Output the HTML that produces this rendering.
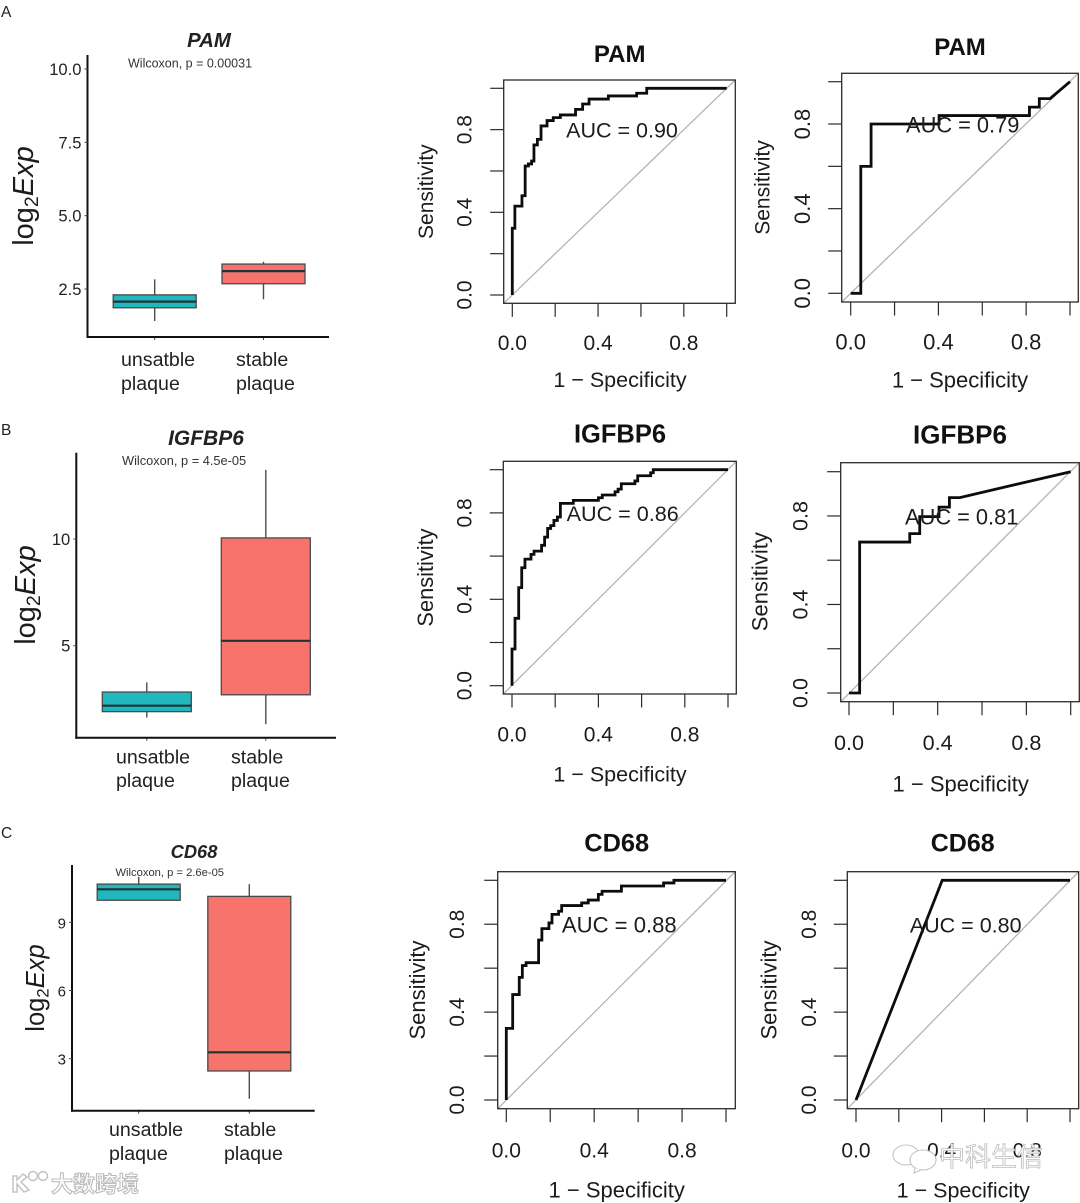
<!DOCTYPE html>
<html lang="en">
<head>
<meta charset="utf-8">
<title>PAM, IGFBP6 and CD68 expression boxplots and ROC curves</title>
<style>
html,body{margin:0;padding:0;background:#fff;}
svg{display:block;font-family:"Liberation Sans","Noto Sans CJK SC",sans-serif;fill:#1c1c1c;}
.bold{font-weight:bold;fill:#111;}
.bi{font-weight:bold;font-style:italic;fill:#222;}
.pv{font-size:12.5px;fill:#333;}
.cat{font-size:19.6px;fill:#222;}
.mid{text-anchor:middle;}
.letter{font-size:15.5px;fill:#222;}
</style>
</head>
<body>
<svg id="figure" xmlns="http://www.w3.org/2000/svg" width="1080" height="1203" viewBox="0 0 1080 1203">
  <text class="letter" x="1" y="17">A</text>
  <text class="letter" x="1" y="435">B</text>
  <text class="letter" x="1" y="838">C</text>

  <!-- Boxplot A -->
  <g id="box-a"></g>
  <text class="bi mid" x="209" y="47" font-size="20.4">PAM</text>
  <text class="pv" x="128" y="67.5">Wilcoxon, p = 0.00031</text>
  <text class="mid" transform="translate(33,196) rotate(-90)" font-size="29">log<tspan dy="5" font-size="19.5">2</tspan><tspan dy="-5" font-style="italic">Exp</tspan></text>
  <text class="cat" x="121" y="366">unsatble<tspan x="121" y="390">plaque</tspan></text>
  <text class="cat" x="236" y="366">stable<tspan x="236" y="390">plaque</tspan></text>

  <!-- Boxplot B -->
  <g id="box-b"></g>
  <text class="bi mid" x="206" y="445" font-size="21">IGFBP6</text>
  <text class="pv" x="122" y="465" style="font-size:12.8px">Wilcoxon, p = 4.5e-05</text>
  <text class="mid" transform="translate(35,595) rotate(-90)" font-size="29">log<tspan dy="5" font-size="19.5">2</tspan><tspan dy="-5" font-style="italic">Exp</tspan></text>
  <text class="cat" x="116" y="763.5">unsatble<tspan x="116" y="787">plaque</tspan></text>
  <text class="cat" x="231" y="763.5">stable<tspan x="231" y="787">plaque</tspan></text>

  <!-- Boxplot C -->
  <g id="box-c"></g>
  <text class="bi mid" x="194" y="858" font-size="18.3">CD68</text>
  <text class="pv" x="115.500" y="876" style="font-size:11.2px">Wilcoxon, p = 2.6e-05</text>
  <text class="mid" transform="translate(44,988) rotate(-90)" font-size="25.5">log<tspan dy="4.500" font-size="17">2</tspan><tspan dy="-4.500" font-style="italic">Exp</tspan></text>
  <text class="cat" x="109" y="1136">unsatble<tspan x="109" y="1160">plaque</tspan></text>
  <text class="cat" x="224" y="1136">stable<tspan x="224" y="1160">plaque</tspan></text>

  <!-- ROC panels -->
  <g id="roc-a1"></g>
  <text class="bold mid" x="619.700" y="62" font-size="24">PAM</text>
  <text class="mid" x="622" y="137.500" font-size="21.5">AUC = 0.90</text>
  <text class="mid" transform="translate(433,191.700) rotate(-90)" font-size="21">Sensitivity</text>
  <text class="mid" x="620" y="387" font-size="21.5">1 − Specificity</text>

  <g id="roc-a2"></g>
  <text class="bold mid" x="960" y="55" font-size="24">PAM</text>
  <text class="mid" x="962.700" y="132.300" font-size="21.8">AUC = 0.79</text>
  <text class="mid" transform="translate(769.300,187.500) rotate(-90)" font-size="21">Sensitivity</text>
  <text class="mid" x="960" y="387.300" font-size="22">1 − Specificity</text>

  <g id="roc-b1"></g>
  <text class="bold mid" x="620" y="442.700" font-size="25.5">IGFBP6</text>
  <text class="mid" x="622.700" y="521" font-size="21.6">AUC = 0.86</text>
  <text class="mid" transform="translate(433,577.500) rotate(-90)" font-size="21.8">Sensitivity</text>
  <text class="mid" x="620" y="781.700" font-size="21.5">1 − Specificity</text>

  <g id="roc-b2"></g>
  <text class="bold mid" x="960" y="443.300" font-size="26">IGFBP6</text>
  <text class="mid" x="961.700" y="524.300" font-size="21.8">AUC = 0.81</text>
  <text class="mid" transform="translate(767.300,581.700) rotate(-90)" font-size="22">Sensitivity</text>
  <text class="mid" x="960.700" y="791.700" font-size="22">1 − Specificity</text>

  <g id="roc-c1"></g>
  <text class="bold mid" x="616.700" y="851.700" font-size="25.4">CD68</text>
  <text class="mid" x="619.300" y="932.300" font-size="22.1">AUC = 0.88</text>
  <text class="mid" transform="translate(425,990) rotate(-90)" font-size="22">Sensitivity</text>
  <text class="mid" x="616.700" y="1197.700" font-size="22">1 − Specificity</text>

  <g id="roc-c2"></g>
  <text class="bold mid" x="962.700" y="851.700" font-size="25">CD68</text>
  <text class="mid" x="965.700" y="932.300" font-size="21.5">AUC = 0.80</text>
  <text class="mid" transform="translate(776.700,990) rotate(-90)" font-size="22">Sensitivity</text>
  <text class="mid" x="963.300" y="1197.700" font-size="21.5">1 − Specificity</text>

  <!-- Watermarks -->
  <g>
    <g fill="#fff" stroke="#c4c4c4" stroke-width="1.500">
      <path d="M13 1176 L13 1192 L17 1192 L17 1184 L24 1192 L29 1190 L21 1182 L27 1177 L23 1174 L17 1180 L17 1176 Z"/>
      <circle cx="33" cy="1176" r="4.500"/>
      <circle cx="43" cy="1176" r="4.500"/>
    </g>
    <text x="51" y="1192" font-size="22" font-weight="bold" style="fill:#fff;stroke:#bdbdbd;stroke-width:1.100px">大数跨境</text>
  </g>
  <g>
    <g fill="#fff" stroke="#c4c4c4" stroke-width="1.100">
      <ellipse cx="906" cy="1155" rx="13" ry="10"/>
      <ellipse cx="923" cy="1160" rx="13" ry="10"/>
      <path d="M915 1168 L914 1173 L921 1170" />
    </g>
    <text x="939" y="1166" font-size="26" style="fill:#fff;stroke:#bcbcbc;stroke-width:0.800px">中科生信</text>
  </g>
</svg>

<script>
// ---- Boxplot data: [whisker low, Q1, median, Q3, whisker high] ----
const boxCategories = ['unstable', 'stable'];
const pamUnstable = [1.41, 1.86, 2.07, 2.30, 2.83];
const pamStable = [2.15, 2.68, 3.11, 3.35, 3.43];
const igfbp6Unstable = [1.64, 1.91, 2.19, 2.83, 3.28];
const igfbp6Stable = [1.32, 2.70, 5.23, 10.05, 13.24];
const cd68Unstable = [9.97, 9.97, 10.45, 10.68, 11.0];
const cd68Stable = [1.24, 2.46, 3.28, 10.14, 10.68];
const pamTicks = [2.5, 5.0, 7.5, 10.0];
const pamTickLabels = ['2.5', '5.0', '7.5', '10.0'];
const igfbp6Ticks = [5, 10];
const igfbp6TickLabels = ['5', '10'];
const cd68Ticks = [3, 6, 9];
const cd68TickLabels = ['3', '6', '9'];

// ---- ROC tick values ----
const rocTicks = [0, 0.2, 0.4, 0.6, 0.8, 1.0];
const rocLabelTicks = [0, 0.4, 0.8];
const rocTickLabels = ['0.0', '0.4', '0.8'];

// ---- ROC curve vertices ----
const pamLeftFpr = [0,0,.012,.012,.045,.045,.06,.06,.075,.075,.09,.09,.101,.101,.117,.117,.134,.134,.162,.162,.191,.191,.224,.224,.295,.295,.328,.328,.358,.358,.448,.448,.58,.58,.627,.627,1];
const pamLeftTpr = [0,.323,.323,.43,.43,.48,.48,.624,.624,.634,.634,.648,.648,.726,.726,.753,.753,.818,.818,.844,.844,.858,.858,.871,.871,.898,.898,.924,.924,.948,.948,.963,.963,.976,.976,1,1];
const pamRightFpr = [0,.046,.046,.093,.093,.403,.403,.815,.815,.86,.86,.909,1];
const pamRightTpr = [0,0,.6,.6,.8,.8,.84,.84,.88,.88,.92,.92,1];
const igfbp6LeftFpr = [0,0,.014,.014,.031,.031,.045,.045,.06,.06,.088,.088,.102,.102,.137,.137,.151,.151,.165,.165,.179,.179,.194,.194,.21,.21,.224,.224,.284,.284,.4,.4,.418,.418,.477,.477,.491,.491,.506,.506,.569,.569,.582,.582,.642,.642,.654,.654,1];
const igfbp6LeftTpr = [0,.17,.17,.312,.312,.454,.454,.546,.546,.586,.586,.608,.608,.623,.623,.65,.65,.688,.688,.728,.728,.741,.741,.765,.765,.781,.781,.844,.844,.858,.858,.87,.87,.883,.883,.898,.898,.91,.91,.935,.935,.948,.948,.972,.972,.986,.986,1,1];
const igfbp6RightFpr = [0,.048,.048,.274,.274,.319,.319,.406,.406,.453,.453,.5,1];
const igfbp6RightTpr = [0,0,.682,.682,.72,.72,.797,.797,.84,.84,.883,.883,1];
const cd68LeftFpr = [0,0,.029,.029,.059,.059,.073,.073,.09,.09,.147,.147,.162,.162,.194,.194,.208,.208,.238,.238,.252,.252,.343,.343,.373,.373,.419,.419,.436,.436,.524,.524,.716,.716,.763,.763,1];
const cd68LeftTpr = [0,.326,.326,.48,.48,.558,.558,.612,.612,.625,.625,.728,.728,.78,.78,.806,.806,.845,.845,.859,.859,.885,.885,.897,.897,.91,.91,.936,.936,.95,.95,.974,.974,.988,.988,1,1];
const cd68RightFpr = [0,.403,1];
const cd68RightTpr = [0,1,1];

// ---- Drawing ----
const NS = 'http://www.w3.org/2000/svg';
function mk(parent, tag, attrs, text) {
  const el = document.createElementNS(NS, tag);
  for (const k in attrs) el.setAttribute(k, attrs[k]);
  if (text !== undefined) el.textContent = text;
  parent.appendChild(el);
  return el;
}

function linearScale(d0, r0, d1, r1) {
  return function (v) { return r0 + (v - d0) * (r1 - r0) / (d1 - d0); };
}

function drawBoxplot(id, key, layout, series, ticks, tickLabels) {
  const g = document.getElementById(id);
  const y = linearScale(layout.d0, layout.y0, layout.d1, layout.y1);
  series.forEach(function (s, i) {
    const cat = boxCategories[i];
    const c = layout.centers[i];
    const half = layout.half;
    const whisker = mk(g, 'line', {x1: c, x2: c, y1: y(s[0]), y2: y(s[4]), stroke: '#4d4d4d', 'stroke-width': 1.4});
    
    
    const box = mk(g, 'rect', {x: c - half, y: y(s[3]), width: half * 2, height: y(s[1]) - y(s[3]), fill: layout.fills[i], stroke: '#4a4a4a', 'stroke-width': 1.3});
    
    
    const med = mk(g, 'line', {x1: c - half, x2: c + half, y1: y(s[2]), y2: y(s[2]), stroke: '#1f3333', 'stroke-width': 2.2});
    
    
    const tick = mk(g, 'line', {x1: c, x2: c, y1: layout.bottom, y2: layout.bottom + 3, stroke: '#444', 'stroke-width': 1});
    
    
  });
  const yAxis = mk(g, 'line', {x1: layout.left, x2: layout.left, y1: layout.top, y2: layout.bottom + 1, stroke: '#111', 'stroke-width': 2});
  
  
  const xAxis = mk(g, 'line', {x1: layout.left - 1, x2: layout.right, y1: layout.bottom, y2: layout.bottom, stroke: '#111', 'stroke-width': 2});
  
  
  ticks.forEach(function (t, i) {
    const tk = mk(g, 'line', {x1: layout.left - 3, x2: layout.left, y1: y(t), y2: y(t), stroke: '#444', 'stroke-width': 1});
    
    
    const lb = mk(g, 'text', {x: layout.left - 6, y: y(t) + 6, 'text-anchor': 'end', 'font-size': layout.tickSize, style: 'fill:#222'}, tickLabels[i]);
    
    
  });
}

const TEAL = '#20b7bf';
const SALMON = '#f6746c';

drawBoxplot('box-a', 'pam', {d0: 2.5, y0: 289, d1: 10, y1: 69, left: 87.5, right: 329, top: 55, bottom: 337, centers: [154.7, 263.5], half: 41.5, fills: [TEAL, SALMON], tickSize: 16.6}, [pamUnstable, pamStable], pamTicks, pamTickLabels);
drawBoxplot('box-b', 'igfbp6', {d0: 5, y0: 645.7, d1: 10, y1: 539, left: 76.3, right: 336, top: 452.7, bottom: 737.7, centers: [146.8, 265.8], half: 44.5, fills: [TEAL, SALMON], tickSize: 16.6}, [igfbp6Unstable, igfbp6Stable], igfbp6Ticks, igfbp6TickLabels);
drawBoxplot('box-c', 'cd68', {d0: 3, y0: 1058.7, d1: 9, y1: 922.3, left: 72, right: 314.7, top: 865, bottom: 1110.7, centers: [138.7, 249.3], half: 41.5, fills: [TEAL, SALMON], tickSize: 15}, [cd68Unstable, cd68Stable], cd68Ticks, cd68TickLabels);

function drawRoc(id, key, layout, fpr, tpr) {
  const g = document.getElementById(id);
  const x = linearScale(0, layout.x0, 1, layout.x1);
  const y = linearScale(0, layout.y0, 1, layout.y1);
  const clipId = id + '-clip';
  const clip = mk(g, 'clipPath', {id: clipId});
  mk(clip, 'rect', {x: layout.left, y: layout.top, width: layout.right - layout.left, height: layout.bottom - layout.top});
  const diag = mk(g, 'line', {x1: layout.left, y1: layout.bottom, x2: layout.right, y2: layout.top, stroke: '#b4b4b4', 'stroke-width': 1.3, 'clip-path': 'url(#' + clipId + ')'});
  
  
  const pts = fpr.map(function (f, i) { return x(f).toFixed(2) + ',' + y(tpr[i]).toFixed(2); }).join(' ');
  const curve = mk(g, 'polyline', {points: pts, fill: 'none', stroke: '#0c0c0c', 'stroke-width': 2.8, 'stroke-linejoin': 'miter'});
  
  
  const frame = mk(g, 'rect', {x: layout.left, y: layout.top, width: layout.right - layout.left, height: layout.bottom - layout.top, fill: 'none', stroke: '#2b2b2b', 'stroke-width': 1.3});
  
  
  rocTicks.forEach(function (t) {
    const xt = mk(g, 'line', {x1: x(t), x2: x(t), y1: layout.bottom, y2: layout.bottom + 13.5, stroke: '#2b2b2b', 'stroke-width': 1.2});
    
    
    const yt = mk(g, 'line', {x1: layout.left - 13.5, x2: layout.left, y1: y(t), y2: y(t), stroke: '#2b2b2b', 'stroke-width': 1.2});
    
    
  });
  rocLabelTicks.forEach(function (t, i) {
    const xl = mk(g, 'text', {x: x(t), y: layout.xLabelY, 'text-anchor': 'middle', 'font-size': layout.tickSize}, rocTickLabels[i]);
    
    
    const yl = mk(g, 'text', {transform: 'translate(' + layout.yLabelX + ',' + y(t) + ') rotate(-90)', 'text-anchor': 'middle', 'font-size': layout.tickSize}, rocTickLabels[i]);
    
    
  });
}

drawRoc('roc-a1', 'pam-left', {left: 503.7, right: 735.3, top: 80, bottom: 303.3, x0: 512.3, x1: 726.7, y0: 295, y1: 88.3, xLabelY: 350, yLabelX: 471.5, tickSize: 21}, pamLeftFpr, pamLeftTpr);
drawRoc('roc-a2', 'pam-right', {left: 841.7, right: 1078.3, top: 73.3, bottom: 302, x0: 850.7, x1: 1070, y0: 293.3, y1: 81.7, xLabelY: 349.3, yLabelX: 810, tickSize: 22}, pamRightFpr, pamRightTpr);
drawRoc('roc-b1', 'igfbp6-left', {left: 503.3, right: 736.3, top: 461.3, bottom: 694, x0: 512, x1: 728, y0: 685.7, y1: 469.7, xLabelY: 741.7, yLabelX: 471.7, tickSize: 21}, igfbp6LeftFpr, igfbp6LeftTpr);
drawRoc('roc-b2', 'igfbp6-right', {left: 840.7, right: 1079.3, top: 462.7, bottom: 701.7, x0: 849, x1: 1070.7, y0: 693, y1: 471.7, xLabelY: 750, yLabelX: 807.7, tickSize: 21.6}, igfbp6RightFpr, igfbp6RightTpr);
drawRoc('roc-c1', 'cd68-left', {left: 497.7, right: 735.3, top: 871.7, bottom: 1108.7, x0: 506.3, x1: 726, y0: 1100, y1: 880.3, xLabelY: 1157.7, yLabelX: 464, tickSize: 21}, cd68LeftFpr, cd68LeftTpr);
drawRoc('roc-c2', 'cd68-right', {left: 847.3, right: 1078.7, top: 871.7, bottom: 1108.7, x0: 856, x1: 1070, y0: 1100, y1: 880.3, xLabelY: 1157.7, yLabelX: 816, tickSize: 21}, cd68RightFpr, cd68RightTpr);
</script>
</body>
</html>
